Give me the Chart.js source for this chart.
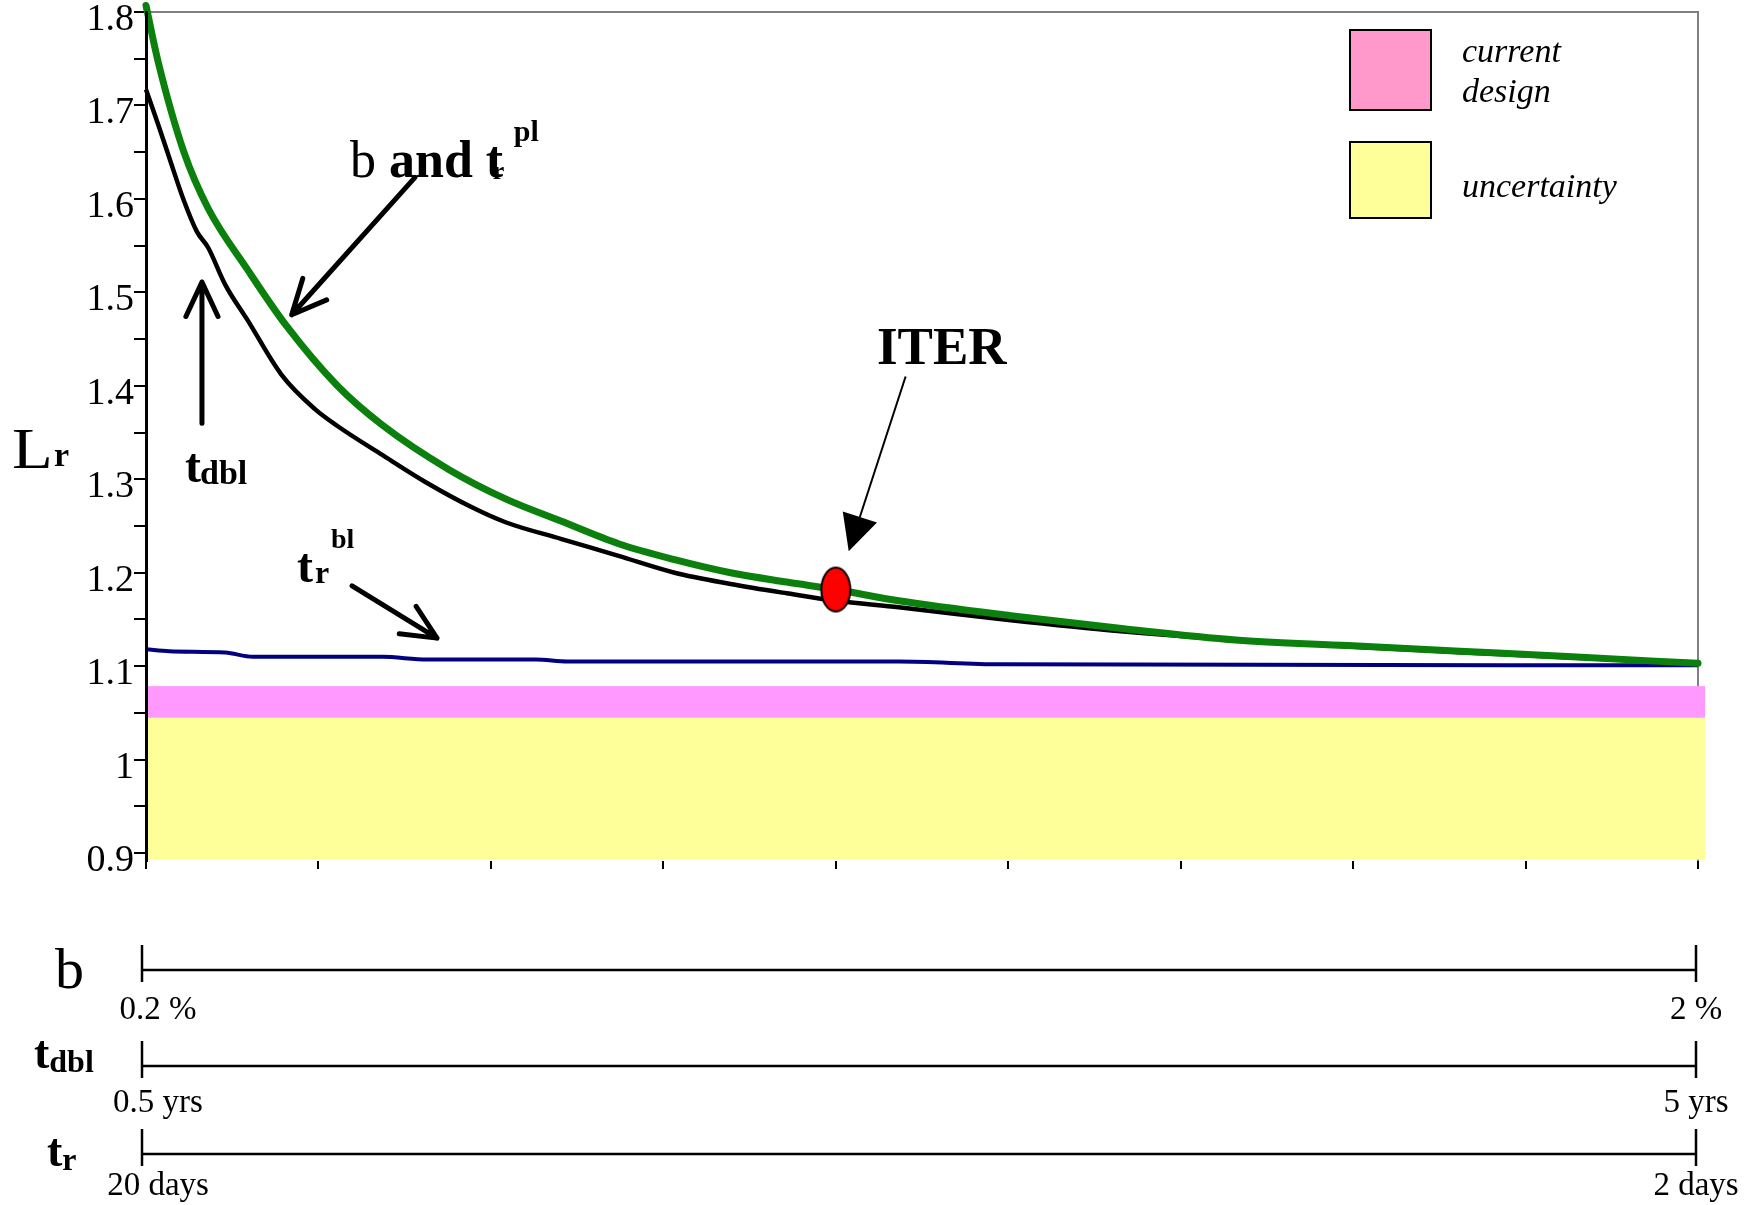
<!DOCTYPE html>
<html>
<head>
<meta charset="utf-8">
<script src="https://cdn.jsdelivr.net/npm/chart.js@4.4.0/dist/chart.umd.min.js"></script>
<style>
    html, body { margin: 0; padding: 0; background: #fff; }
    canvas { display: block; }
</style>
</head>
<body>
<canvas id="lrChart" width="1761" height="1205"></canvas>
<script>
// x = b (%), y = Lr
const xMin = 0.2, xMax = 2.0;
const yMin = 0.8915, yMax = 1.8;
const xTicks = [0.2, 0.4, 0.6, 0.8, 1.0, 1.2, 1.4, 1.6, 1.8, 2.0];
const yTicks = [0.9, 0.95, 1, 1.05, 1.1, 1.15, 1.2, 1.25, 1.3, 1.35, 1.4, 1.45, 1.5, 1.55, 1.6, 1.65, 1.7, 1.75, 1.8];
const yTickLabels = ['0.9', '', '1', '', '1.1', '', '1.2', '', '1.3', '', '1.4', '', '1.5', '', '1.6', '', '1.7', '', '1.8'];

// b and tr^pl (green)
const greenB = [0.2, 0.214, 0.244, 0.272, 0.318, 0.363, 0.422, 0.474, 0.552, 0.617, 0.682, 0.748, 0.813, 0.878, 0.943, 1.0, 1.073, 1.203, 1.334, 1.464, 1.594, 1.724, 1.854, 2.0];
const greenLr = [1.807, 1.747, 1.650, 1.590, 1.524, 1.464, 1.400, 1.358, 1.310, 1.279, 1.255, 1.231, 1.214, 1.200, 1.190, 1.182, 1.170, 1.154, 1.140, 1.128, 1.122, 1.116, 1.110, 1.103];

// tdbl (black)
const blackB = [0.2, 0.214, 0.227, 0.244, 0.259, 0.272, 0.292, 0.318, 0.357, 0.396, 0.422, 0.474, 0.526, 0.578, 0.617, 0.682, 0.748, 0.813, 0.878, 0.943, 1.0, 1.073, 1.203, 1.334, 1.464, 1.594, 1.724, 2.0];
const blackLr = [1.717, 1.680, 1.644, 1.598, 1.565, 1.548, 1.508, 1.470, 1.412, 1.375, 1.357, 1.326, 1.296, 1.270, 1.254, 1.236, 1.218, 1.200, 1.188, 1.178, 1.170, 1.163, 1.149, 1.137, 1.128, 1.121, 1.115, 1.103];

// tr^bl (navy)
const blueB = [0.2, 0.227, 0.292, 0.324, 0.474, 0.526, 0.652, 0.689, 1.073, 1.190, 2.0];
const blueLr = [1.118, 1.116, 1.1145, 1.110, 1.110, 1.107, 1.107, 1.105, 1.105, 1.102, 1.101];

// ITER point
const iterB = [1.0];
const iterLr = [1.182];

// shaded bands
const bandLow = [1.0447, 0.893];
const bandHigh = [1.0786, 1.0447];
const bandColors = ['#FF99FF', '#FFFF99'];
const legendLabels = [['current', 'design'], ['uncertainty']];
const legendColors = ['#FF99CC', '#FFFF99'];

// parameter axes under the chart
const lowerNames = [['b', ''], ['t', 'dbl'], ['t', 'r']];
const lowerStart = ['0.2 %', '0.5 yrs', '20 days'];
const lowerEnd = ['2 %', '5 yrs', '2 days'];

const serif = "'Liberation Serif', 'Times New Roman', serif";

function pts(xs, ys) {
    return xs.map(function (v, i) { return { x: v, y: ys[i] }; });
}

// red ellipse used as ITER marker
const iterMarker = document.createElement('canvas');
iterMarker.width = 34;
iterMarker.height = 48;
const mctx = iterMarker.getContext('2d');
mctx.beginPath();
mctx.ellipse(17, 24, 14.5, 22, 0, 0, Math.PI * 2);
mctx.fillStyle = '#FF0000';
mctx.fill();
mctx.lineWidth = 2;
mctx.strokeStyle = '#000';
mctx.stroke();

function txt(ctx, s, x, y, size, bold, italic, align) {
    ctx.font = (italic ? 'italic ' : '') + (bold ? 'bold ' : '') + size + 'px ' + serif;
    ctx.textAlign = align || 'left';
    ctx.textBaseline = 'alphabetic';
    ctx.fillStyle = '#000';
    ctx.fillText(s, x, y);
    return x + ctx.measureText(s).width;
}

function openArrow(ctx, x0, y0, x1, y1) {
    const ang = Math.atan2(y0 - y1, x0 - x1);
    const len = 38, spread = 25 * Math.PI / 180;
    ctx.save();
    ctx.strokeStyle = '#000';
    ctx.lineWidth = 5;
    ctx.lineCap = 'round';
    ctx.lineJoin = 'round';
    ctx.beginPath();
    ctx.moveTo(x0, y0);
    ctx.lineTo(x1, y1);
    ctx.moveTo(x1 + len * Math.cos(ang - spread), y1 + len * Math.sin(ang - spread));
    ctx.lineTo(x1, y1);
    ctx.lineTo(x1 + len * Math.cos(ang + spread), y1 + len * Math.sin(ang + spread));
    ctx.stroke();
    ctx.restore();
}

function filledArrow(ctx, x0, y0, x1, y1) {
    const ang = Math.atan2(y1 - y0, x1 - x0);
    const len = 36, half = 18;
    const bx = x1 - len * Math.cos(ang), by = y1 - len * Math.sin(ang);
    ctx.save();
    ctx.strokeStyle = '#000';
    ctx.fillStyle = '#000';
    ctx.lineWidth = 2;
    ctx.beginPath();
    ctx.moveTo(x0, y0);
    ctx.lineTo(bx, by);
    ctx.stroke();
    ctx.beginPath();
    ctx.moveTo(x1, y1);
    ctx.lineTo(bx + half * Math.sin(ang), by - half * Math.cos(ang));
    ctx.lineTo(bx - half * Math.sin(ang), by + half * Math.cos(ang));
    ctx.closePath();
    ctx.fill();
    ctx.restore();
}

const overlay = {
    id: 'overlay',
    beforeDatasetsDraw: function (chart) {
        const ctx = chart.ctx, a = chart.chartArea, y = chart.scales.y;
        ctx.save();
        // grey frame on top and right
        ctx.strokeStyle = '#808080';
        ctx.lineWidth = 2;
        ctx.beginPath();
        ctx.moveTo(a.left, a.top);
        ctx.lineTo(a.right, a.top);
        ctx.lineTo(a.right, a.bottom);
        ctx.stroke();
        // bands
        bandLow.forEach(function (lo, i) {
            const top = y.getPixelForValue(bandHigh[i]);
            const bot = y.getPixelForValue(lo);
            ctx.fillStyle = bandColors[i];
            ctx.fillRect(a.left, top, a.right + 7 - a.left, bot - top);
        });
        ctx.restore();
    },
    afterDraw: function (chart) {
        const ctx = chart.ctx, a = chart.chartArea, x = chart.scales.x, y = chart.scales.y;
        const px = function (v) { return x.getPixelForValue(v); };
        const py = function (v) { return y.getPixelForValue(v); };
        ctx.save();

        // axis title Lr (slightly wide glyph like the original)
        ctx.save();
        ctx.translate(12, py(1.312));
        ctx.scale(1.15, 1);
        txt(ctx, 'L', 0, 0, 58, false);
        ctx.restore();
        txt(ctx, 'r', 54, py(1.312) - 2, 34, true);

        // b and tr^pl
        let cx = txt(ctx, 'b ', px(0.4366), py(1.6232), 52, false);
        cx = txt(ctx, 'and ', cx, py(1.6232), 52, true);
        txt(ctx, 't', cx, py(1.6232), 52, true);
        txt(ctx, 'r', cx + 7, py(1.6232) + 2, 26, true);
        txt(ctx, 'pl', cx + 28, py(1.6232) - 36, 30, true);
        openArrow(ctx, px(0.512), py(1.623), px(0.369), py(1.476));

        // tdbl
        txt(ctx, 't', px(0.2452), py(1.2969), 48, true);
        txt(ctx, 'dbl', px(0.2452) + 15, py(1.2969) + 2, 34, true);
        openArrow(ctx, px(0.2649), py(1.360), px(0.2649), py(1.511));

        // tr^bl
        txt(ctx, 't', px(0.3751), py(1.190), 48, true);
        txt(ctx, 'r', px(0.3751) + 18, py(1.190) + 1, 32, true);
        txt(ctx, 'bl', px(0.3751) + 34, py(1.190) - 34, 28, true);
        openArrow(ctx, px(0.439), py(1.186), px(0.5375), py(1.130));

        // ITER
        txt(ctx, 'ITER', px(1.0478), py(1.4232), 53, true);
        filledArrow(ctx, px(1.081), py(1.410), px(1.015), py(1.223));

        // legend
        const lx = a.right - 348;
        const boxTop = [a.top + 18, a.top + 130];
        const boxH = [80, 76];
        const textBase = [[a.top + 50, a.top + 90], [a.top + 185]];
        legendLabels.forEach(function (lines, i) {
            ctx.fillStyle = legendColors[i];
            ctx.fillRect(lx, boxTop[i], 81, boxH[i]);
            ctx.strokeStyle = '#000';
            ctx.lineWidth = 2;
            ctx.strokeRect(lx, boxTop[i], 81, boxH[i]);
            lines.forEach(function (s, j) {
                txt(ctx, s, lx + 112, textBase[i][j], 34, false, true);
            });
        });

        // parameter axes below
        const x0 = px(xMin) - 4, x1 = px(xMax) - 2;
        const lineY = [a.bottom + 109, a.bottom + 205, a.bottom + 293];
        const labY = [a.bottom + 158, a.bottom + 251, a.bottom + 334];
        const nameX = [55, 34, 47];
        const nameY = [a.bottom + 127, a.bottom + 207, a.bottom + 305];
        lowerNames.forEach(function (nm, i) {
            ctx.strokeStyle = '#000';
            ctx.lineWidth = 2.5;
            ctx.beginPath();
            ctx.moveTo(x0, lineY[i]);
            ctx.lineTo(x1, lineY[i]);
            ctx.moveTo(x0, lineY[i] - 25);
            ctx.lineTo(x0, lineY[i] + 12);
            ctx.moveTo(x1, lineY[i] - 25);
            ctx.lineTo(x1, lineY[i] + 12);
            ctx.stroke();
            if (i === 0) {
                txt(ctx, nm[0], nameX[i], nameY[i], 58, false);
            } else {
                const e = txt(ctx, nm[0], nameX[i], nameY[i], 46, true);
                txt(ctx, nm[1], e, nameY[i] + 4, 32, true);
            }
            txt(ctx, lowerStart[i], x0 + 16, labY[i], 33, false, false, 'center');
            txt(ctx, lowerEnd[i], x1, labY[i], 33, false, false, 'center');
        });
        ctx.restore();
    }
};

const chart = new Chart(document.getElementById('lrChart'), {
    type: 'line',
    data: {
        datasets: [{
            label: 'ITER',
            type: 'scatter',
            data: pts(iterB, iterLr),
            pointStyle: iterMarker,
            pointRadius: 20,
            showLine: false
        }, {
            label: 'b and tr pl',
            data: pts(greenB, greenLr),
            borderColor: '#0c800c',
            borderWidth: 7,
            borderCapStyle: 'round',
            pointRadius: 0,
            cubicInterpolationMode: 'monotone',
            clip: 12
        }, {
            label: 'tdbl',
            data: pts(blackB, blackLr),
            borderColor: '#000000',
            borderWidth: 4.5,
            pointRadius: 0,
            cubicInterpolationMode: 'monotone',
            clip: 8
        }, {
            label: 'tr bl',
            data: pts(blueB, blueLr),
            borderColor: '#000080',
            borderWidth: 4,
            pointRadius: 0,
            cubicInterpolationMode: 'monotone',
            clip: 8
        }]
    },
    options: {
        responsive: false,
        animation: false,
        devicePixelRatio: 1,
        // autoPadding off, otherwise the big ITER marker pushes the plot down
        layout: { autoPadding: false, padding: { left: 0, top: 12, right: 63, bottom: 0 } },
        plugins: { legend: { display: false }, tooltip: { enabled: false } },
        scales: {
            x: {
                type: 'linear',
                min: xMin,
                max: xMax,
                afterBuildTicks: function (s) { s.ticks = xTicks.map(function (v) { return { value: v }; }); },
                ticks: { callback: function () { return ''; }, font: { size: 1 }, autoSkip: false },
                grid: { drawOnChartArea: false, drawTicks: true, tickLength: 8, color: '#000', lineWidth: 2 },
                border: { display: false },
                afterFit: function (s) { s.height = 344; s.paddingLeft = 0; s.paddingRight = 0; }
            },
            y: {
                type: 'linear',
                min: yMin,
                max: yMax,
                afterBuildTicks: function (s) { s.ticks = yTicks.map(function (v) { return { value: v }; }); },
                ticks: {
                    callback: function (v, i) { return yTickLabels[i]; },
                    autoSkip: false,
                    color: '#000',
                    padding: 0,
                    labelOffset: 8,
                    font: { family: serif, size: 38 }
                },
                grid: { drawOnChartArea: false, tickLength: 12, color: '#000', lineWidth: 2 },
                border: { color: '#000', width: 3, z: 1 },
                afterFit: function (s) { s.width = 146; s.paddingTop = 0; s.paddingBottom = 0; }
            }
        }
    },
    plugins: [overlay]
});
</script>
</body>
</html>
